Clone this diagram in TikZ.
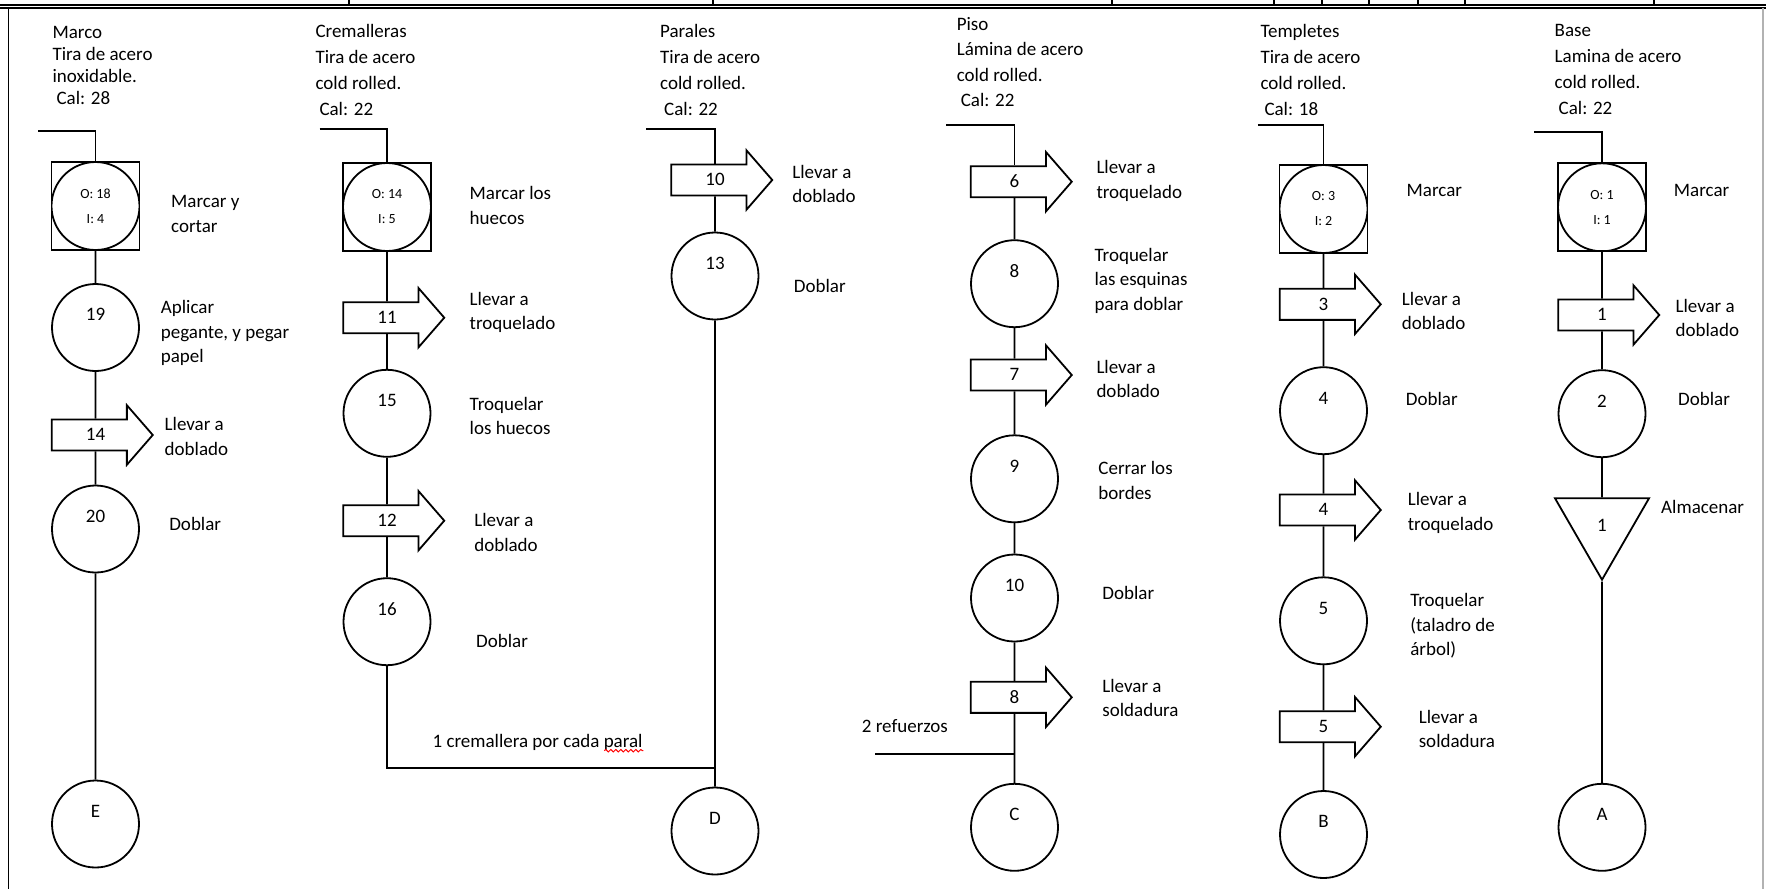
\documentclass[tikz,border=0pt]{standalone}
\usepackage{fontspec}
\setmainfont{Carlito}
\usetikzlibrary{positioning, shapes.arrows, shapes.geometric, decorations.pathmorphing}

\begin{document}
\begin{tikzpicture}[
    x=0.5pt, y=-0.5pt,      % 1 unidad = 1 px de la imagen, eje y hacia abajo
    line width=0.9pt,
    font=\fontsize{9.5}{12.3}\selectfont,
    paso/.style={circle, draw, minimum size=43.5pt, inner sep=0pt,
        text height=6.5pt, text depth=13.1pt},
    inspeccion/.style={rectangle, draw, minimum size=44pt, inner sep=0pt,
        align=center, font=\fontsize{7}{12.5}\selectfont,
        path picture={\draw (path picture bounding box.center) circle (22pt);}},
    traslado/.style={single arrow, draw, fill=white, inner sep=0pt,
        minimum height=50.5pt, minimum width=28.8pt,
        single arrow head extend=7.1pt, single arrow tip angle=98,
        text height=10.3pt, text depth=4.35pt},
    almacen/.style={regular polygon, regular polygon sides=3,
        shape border rotate=180, draw, minimum size=54.3pt, inner sep=0pt},
    texto/.style={anchor=north west, inner sep=0pt, align=left},
    titulo/.style={texto, font=\fontsize{9.5}{#1}\selectfont},
    titulo/.default=13pt
]
    \useasboundingbox (0,0) rectangle (1766,889);

    % --- 1. marco de la hoja ---
    \draw [line width=0.6pt] (0,5) -- (1766,5);
    \draw [line width=0.6pt] (0,8) -- (1766,8);
    \foreach \xx in {349,713,1112,1274,1322,1369,1418,1465,1654}
        \draw [line width=0.6pt] (\xx,0) -- (\xx,5);
    \draw (8.5,8) -- (8.5,889);
    \draw [gray!60] (1763,8) -- (1763,889);

    % --- 2. Marco ---
    \node [titulo=11pt] (tMarco) at (51.7,25.3) {Marco\\Tira de acero\\inoxidable.\\\hspace{2pt}Cal: 28};
    \coordinate (inMarco) at (38,131);
    \node [inspeccion] (opMarco) at (95.5,206) {O: 18\\I: 4};
    \node [paso] (c19) at (95.5,327.5) {19};
    \node [traslado] (a14) at (95.5,435) {14};
    \node [paso] (c20) at (95.5,529) {20};
    \node [paso] (E) at (95.5,824) {E};
    \draw (inMarco) -| (opMarco);
    \draw (opMarco) -- (c19) -- (a14) -- (c20) -- (E);
    \node [texto] (lMarco1) at (170.3,194.7) {Marcar y\\cortar};
    \node [texto] (lMarco2) at (160,299.7) {Aplicar\\pegante, y pegar\\papel};
    \node [texto] (lMarco3) at (163.8,416.3) {Llevar a\\doblado};
    \node [texto] (lMarco4) at (168.4,516.3) {Doblar};

    % --- 3. Cremalleras ---
    \node [titulo] (tCrem) at (314.6,23.7) {Cremalleras\\Tira de acero\\cold rolled.\\\hspace{2pt}Cal: 22};
    \coordinate (inCrem) at (319.6,129);
    \node [inspeccion] (opCrem) at (387,207) {O: 14\\I: 5};
    \node [traslado] (a11) at (387,317.7) {11};
    \node [paso] (c15) at (387,413.3) {15};
    \node [traslado] (a12) at (387,520.7) {12};
    \node [paso] (c16) at (387,621.7) {16};
    \coordinate (unionD) at (715,768.3);
    \draw (inCrem) -| (opCrem);
    \draw (opCrem) -- (a11) -- (c15) -- (a12) -- (c16);
    \draw (c16) |- (unionD);
    \node [texto] (lCrem1) at (468.8,185.7) {Marcar los\\huecos};
    \node [texto] (lCrem2) at (468.8,291.3) {Llevar a\\troquelado};
    \node [texto] (lCrem3) at (468.8,396.3) {Troquelar\\los huecos};
    \node [texto] (lCrem4) at (473.4,512.3) {Llevar a\\doblado};
    \node [texto] (lCrem5) at (475.3,633.7) {Doblar};
    \node [texto] (nota) at (431.7,733) {1 cremallera por cada paral};
    % subrayado rojo del corrector
    \draw [red, line width=0.5pt, decorate, decoration={snake, amplitude=0.6pt, segment length=2.5pt}]
        ([xshift=-19.6pt, yshift=-1.8pt]nota.base east) -- ([yshift=-1.8pt]nota.base east);

    % --- 4. Parales ---
    \node [titulo] (tPar) at (659.3,23.7) {Parales\\Tira de acero\\cold rolled.\\\hspace{2pt}Cal: 22};
    \coordinate (inPar) at (646,129);
    \node [traslado] (a10) at (715,180) {10};
    \node [paso] (c13) at (715,276) {13};
    \node [paso] (D) at (715,831) {D};
    \draw (inPar) -| (a10);
    \draw (a10) -- (c13) -- (D);
    \node [texto] (lPar1) at (791.4,164) {Llevar a\\doblado};
    \node [texto] (lPar2) at (793,278) {Doblar};

    % --- 5. Piso ---
    \node [titulo=12.7pt] (tPiso) at (955.9,16.3) {Piso\\Lámina de acero\\cold rolled.\\\hspace{2pt}Cal: 22};
    \coordinate (inPiso) at (946.3,125);
    \node [traslado] (a6) at (1014.5,181.7) {6};
    \node [paso] (c8) at (1014.5,283.7) {8};
    \node [traslado] (a7) at (1014.5,375) {7};
    \node [paso] (c9) at (1014.5,478.8) {9};
    \node [paso] (c10) at (1014.5,598) {10};
    \node [traslado] (a8) at (1014.5,697.3) {8};
    \node [paso] (C) at (1014.5,827.3) {C};
    \coordinate (inRef) at (875.4,754);
    \coordinate (unionC) at (1014.5,754);
    \draw (inPiso) -| (a6);
    \draw (a6) -- (c8) -- (a7) -- (c9) -- (c10) -- (a8) -- (C);
    \draw (inRef) -- (unionC);
    \node [texto] (lPiso1) at (1095.6,159.7) {Llevar a\\troquelado};
    \node [texto] (lPiso2) at (1093.7,247.3) {Troquelar\\las esquinas\\para doblar};
    \node [texto] (lPiso3) at (1095.6,359) {Llevar a\\doblado};
    \node [texto] (lPiso4) at (1097.5,460.3) {Cerrar los\\bordes};
    \node [texto] (lPiso5) at (1101.5,585.7) {Doblar};
    \node [texto] (lPiso6) at (1101.5,678) {Llevar a\\soldadura};
    \node [texto] (lRef) at (861,719) {2 refuerzos};

    % --- 6. Templetes ---
    \node [titulo] (tTemp) at (1259.6,23.7) {Templetes\\Tira de acero\\cold rolled.\\\hspace{2pt}Cal: 18};
    \coordinate (inTemp) at (1257.8,125);
    \node [inspeccion] (opTemp) at (1323.5,209) {O: 3\\I: 2};
    \node [traslado] (a3) at (1323.5,304.3) {3};
    \node [paso] (c4) at (1323.5,410.7) {4};
    \node [traslado] (a4) at (1323.5,510) {4};
    \node [paso] (c5) at (1323.5,620.8) {5};
    \node [traslado] (a5) at (1323.5,726.7) {5};
    \node [paso] (B) at (1323.5,834.5) {B};
    \draw (inTemp) -| (opTemp);
    \draw (opTemp) -- (a3) -- (c4) -- (a4) -- (c5) -- (a5) -- (B);
    \node [texto] (lTemp1) at (1405.8,183.7) {Marcar};
    \node [texto] (lTemp2) at (1401,291.3) {Llevar a\\doblado};
    \node [texto] (lTemp3) at (1405,391.3) {Doblar};
    \node [texto] (lTemp4) at (1406.9,491.3) {Llevar a\\troquelado};
    \node [texto] (lTemp5) at (1409.4,592.3) {Troquelar\\(taladro de\\árbol)};
    \node [texto] (lTemp6) at (1417.9,709) {Llevar a\\soldadura};

    % --- 7. Base ---
    \node [titulo] (tBase) at (1553.8,23.7) {Base\\Lamina de acero\\cold rolled.\\\hspace{2pt}Cal: 22};
    \coordinate (inBase) at (1534,131.7);
    \node [inspeccion] (opBase) at (1602,207.3) {O: 1\\I: 1};
    \node [traslado] (a1) at (1602,315) {1};
    \node [paso] (c2) at (1602,413.7) {2};
    \node [almacen] (alm) at (1602,525.4) {1};
    \node [paso] (A) at (1602,827.3) {A};
    \draw (inBase) -| (opBase);
    \draw (opBase) -- (a1) -- (c2) -- (alm) -- (A);
    \node [texto] (lBase1) at (1673,183.7) {Marcar};
    \node [texto] (lBase2) at (1674.7,298) {Llevar a\\doblado};
    \node [texto] (lBase3) at (1677.3,391.3) {Doblar};
    \node [texto] (lBase4) at (1660.3,499.7) {Almacenar};

\end{tikzpicture}
\end{document}
